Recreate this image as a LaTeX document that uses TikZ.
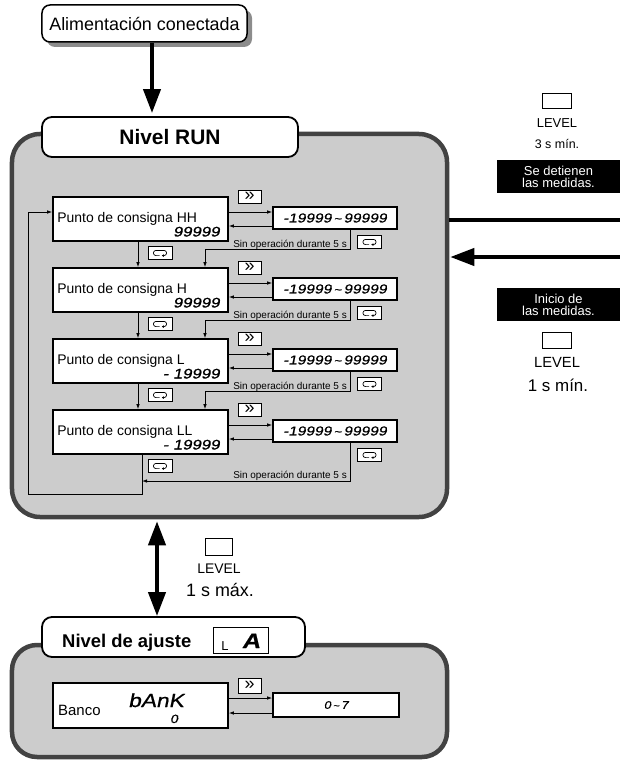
\documentclass[tikz,border=0pt]{standalone}
\usepackage{fontspec}
\setmainfont{Liberation Sans}
\newfontfamily\segfont[FakeStretch=1.2,FakeSlant=0.2,FakeBold=0.7]{Liberation Sans}
\usetikzlibrary{arrows.meta,calc}
\newcommand\fs[1]{\fontsize{#1}{#1}\selectfont}
\newcommand\rngtxt{{\segfont -19999}\,{\fs{11}\textasciitilde}\,{\segfont 99999}}
\newcommand\fwdsym{\raisebox{-0.5bp}{\fs{18}»}}
\newcommand\loopsym[1]{\draw[line width=0.7bp,-{Latex[length=2.2bp,width=2.6bp]}]
  ([shift={(-0.5bp,-2.6bp)}]#1.center) -- ([shift={(-4bp,-2.6bp)}]#1.center)
  arc[start angle=270,end angle=90,radius=2.6bp] -- ([shift={(4bp,2.6bp)}]#1.center)
  arc[start angle=90,end angle=-90,radius=2.6bp] -- ([shift={(1.6bp,-2.6bp)}]#1.center);}
\tikzset{
  panel/.style={rectangle, draw=black!74, line width=4.5bp, fill=black!20, inner sep=0pt},
  lblbox/.style={rectangle, draw, line width=1.8bp, fill=white, rounded corners=10bp, inner sep=0pt},
  ptbox/.style={rectangle, draw, line width=1.6bp, fill=white, minimum width=175bp, minimum height=44bp, inner sep=0pt},
  rngbox/.style={rectangle, draw, line width=1.6bp, fill=white, minimum width=124bp, minimum height=22bp, inner sep=0pt, font=\segfont\fs{13}},
  keybox/.style={rectangle, draw, line width=1bp, fill=white, minimum width=23bp, minimum height=13bp, inner sep=0pt},
  lvkey/.style={rectangle, draw, line width=0.9bp, fill=white, minimum width=29bp, minimum height=15bp, inner sep=0pt},
  thinarrow/.style={line width=0.8bp, -{Latex[length=5bp,width=3.5bp]}},
  bigarrow/.style={line width=4bp, -{Triangle[length=24bp,width=17bp]}},
  blackbox/.style={rectangle, fill=black, text=white, minimum width=123bp, minimum height=33bp, align=center, inner sep=0pt, font=\fontsize{13}{12}\selectfont},
  ptlabel/.style={font=\fs{14}, inner sep=0pt},
  ptval/.style={font=\segfont\fs{14}, inner sep=0pt},
  sintext/.style={font=\fs{10}, inner sep=0pt},
  plain/.style={inner sep=0pt}
}
\begin{document}
\begin{tikzpicture}[x=1bp,y=-1bp]
\useasboundingbox (0,0) rectangle (620,763);
% ---------- power on ----------
\fill[black!45, rounded corners=8bp] (47,10) rectangle (252,47);
\node[lblbox, line width=1.5bp, rounded corners=8bp, minimum width=205bp, minimum height=37bp, font=\fs{18}] (pow) at (144.5,23.5) {Alimentación conectada};
% ---------- RUN panel ----------
\node[panel, rounded corners=28bp, minimum width=435bp, minimum height=383bp] (run) at (229.5,325.5) {};
\node[lblbox, minimum width=256bp, minimum height=40bp, font=\bfseries\fs{21}] (runl) at (170,137) {Nivel RUN};
\coordinate (ax) at (152,0);
\draw[bigarrow, shorten >=3bp] (pow.south -| ax) -- (runl.north -| ax);
% rows
\foreach \i/\yc/\lbl/\val in {1/219/HH/99999,2/290/H/99999,3/361/L/- 19999,4/432/LL/- 19999}{
  \node[ptbox] (p\i) at (140.5,\yc) {};
  \node[ptlabel, anchor=base west] (pl\i) at ($(p\i.west)+(5,3)$) {Punto de consigna \lbl};
  \node[ptval, anchor=base east] (pv\i) at ($(p\i.east)+(-9,17.5)$) {\val};
  \node[rngbox] (r\i) at (335,\yc-1) {\rngtxt};
  \node[keybox] (f\i) at (249.5,\yc-22.5) {\fwdsym};
  \node[keybox, minimum width=24bp] (m\i) at (160,\yc+34) {};
  \loopsym{m\i}
  \node[keybox, minimum width=24bp] (n\i) at (369.5,\yc+23) {};
  \loopsym{n\i}
  \coordinate (a\i) at ($(p\i.east)+(0,-7)$);
  \coordinate (b\i) at ($(p\i.east)+(0,7)$);
  \draw[thinarrow] (a\i) -- (a\i -| r\i.west);
  \draw[thinarrow] (b\i -| r\i.west) -- (b\i);
}
\coordinate (dx) at (138,0);
\coordinate (ex) at (205,0);
\coordinate (bx) at (142,0);
\foreach \i/\j/\yc in {1/2/219,2/3/290,3/4/361}{
  \draw[thinarrow] (p\i.south -| dx) -- (p\j.north -| dx);
  \coordinate (c\i) at (350,\yc+30);
  \draw[thinarrow] (r\i.south -| c\i) -- (c\i) -| (p\j.north -| ex);
  \node[sintext, anchor=base east] (s\i) at ($(c\i)+(-3,-2)$) {Sin operación durante 5 s};
}
\coordinate (c4) at (350,481);
\draw[thinarrow] (r4.south -| c4) -- (c4) -- (c4 -| bx);
\node[sintext, anchor=base east] (s4) at ($(c4)+(-3,-3)$) {Sin operación durante 5 s};
\coordinate (q2) at (28,494);
\draw[thinarrow] (p4.south -| bx) |- (q2) |- (p1.west |- a1);
% ---------- right side ----------
\coordinate (e1) at (620,220);
\coordinate (e2) at (620,257);
\draw[line width=4bp] (run.east |- e1) -- (e1);
\draw[bigarrow] (e2) -- ($(run.east |- e2)+(1,0)$);
\node[lvkey] (lv1) at (556.5,100.5) {};
\node[plain, font=\fs{13}, anchor=base] (lv1t) at (557,127) {LEVEL};
\node[plain, font=\fs{12.5}, anchor=base] (t3) at (557,148) {3 s mín.};
\node[blackbox] (stop) at (558.5,176.5) {Se detienen\\las medidas.};
\node[blackbox] (start) at (558.5,304.5) {Inicio de\\las medidas.};
\node[lvkey, minimum height=16bp] (lv2) at (556.5,340) {};
\node[plain, font=\fs{14.8}, anchor=base] (lv2t) at (557,367) {LEVEL};
\node[plain, font=\fs{17}, anchor=base] (t1) at (558,391) {1 s mín.};
% ---------- adjust level ----------
\node[panel, rounded corners=25bp, minimum width=435bp, minimum height=112bp] (adj) at (229.5,701) {};
\node[lblbox, minimum width=263bp, minimum height=40bp] (adjl) at (173.5,637) {};
\node[plain, anchor=base west, font=\bfseries\fs{18.5}] (adjt) at (62,647) {Nivel de ajuste};
\node[rectangle, draw, line width=1bp, fill=white, minimum width=55bp, minimum height=26bp] (la) at (240.5,640) {};
\node[plain, anchor=base, font=\fs{13}] (laL) at (225,650) {L};
\node[plain, anchor=base, font=\segfont\bfseries\fs{21}] (laA) at (251,648) {A};
\coordinate (vx) at (157,0);
\draw[line width=4bp, {Triangle[length=24bp,width=17bp]}-{Triangle[length=24bp,width=17bp]}, shorten <=2bp] (run.south -| vx) -- (adjl.north -| vx);
\node[lvkey, minimum width=27bp, minimum height=17bp] (lv3) at (218.5,546.5) {};
\node[plain, font=\fs{14}, anchor=base] (lv3t) at (219,573) {LEVEL};
\node[plain, font=\fs{18}, anchor=base] (t1b) at (220,596) {1 s máx.};
\node[ptbox, minimum height=45bp] (banco) at (140.5,705.5) {};
\node[plain, anchor=base west, font=\fs{15}] (bancot) at (58,715) {Banco};
\node[plain, anchor=base, font=\segfont\fs{19}] (bank) at (156,707) {bAnK};
\node[plain, anchor=base, font=\segfont\fs{12}] (bank0) at (174,723) {0};
\node[rngbox, minimum width=126bp, minimum height=24bp, font=\segfont\fs{11}] (r5) at (336,705) {0\,{\fs{9}\textasciitilde}\,7};
\node[keybox, minimum height=15bp] (f5) at (249.5,685.5) {\fwdsym};
\coordinate (a5) at ($(banco.east)+(0,-7.5)$);
\coordinate (b5) at ($(banco.east)+(0,7.5)$);
\draw[thinarrow] (a5) -- (a5 -| r5.west);
\draw[thinarrow] (b5 -| r5.west) -- (b5);
\end{tikzpicture}
\end{document}
